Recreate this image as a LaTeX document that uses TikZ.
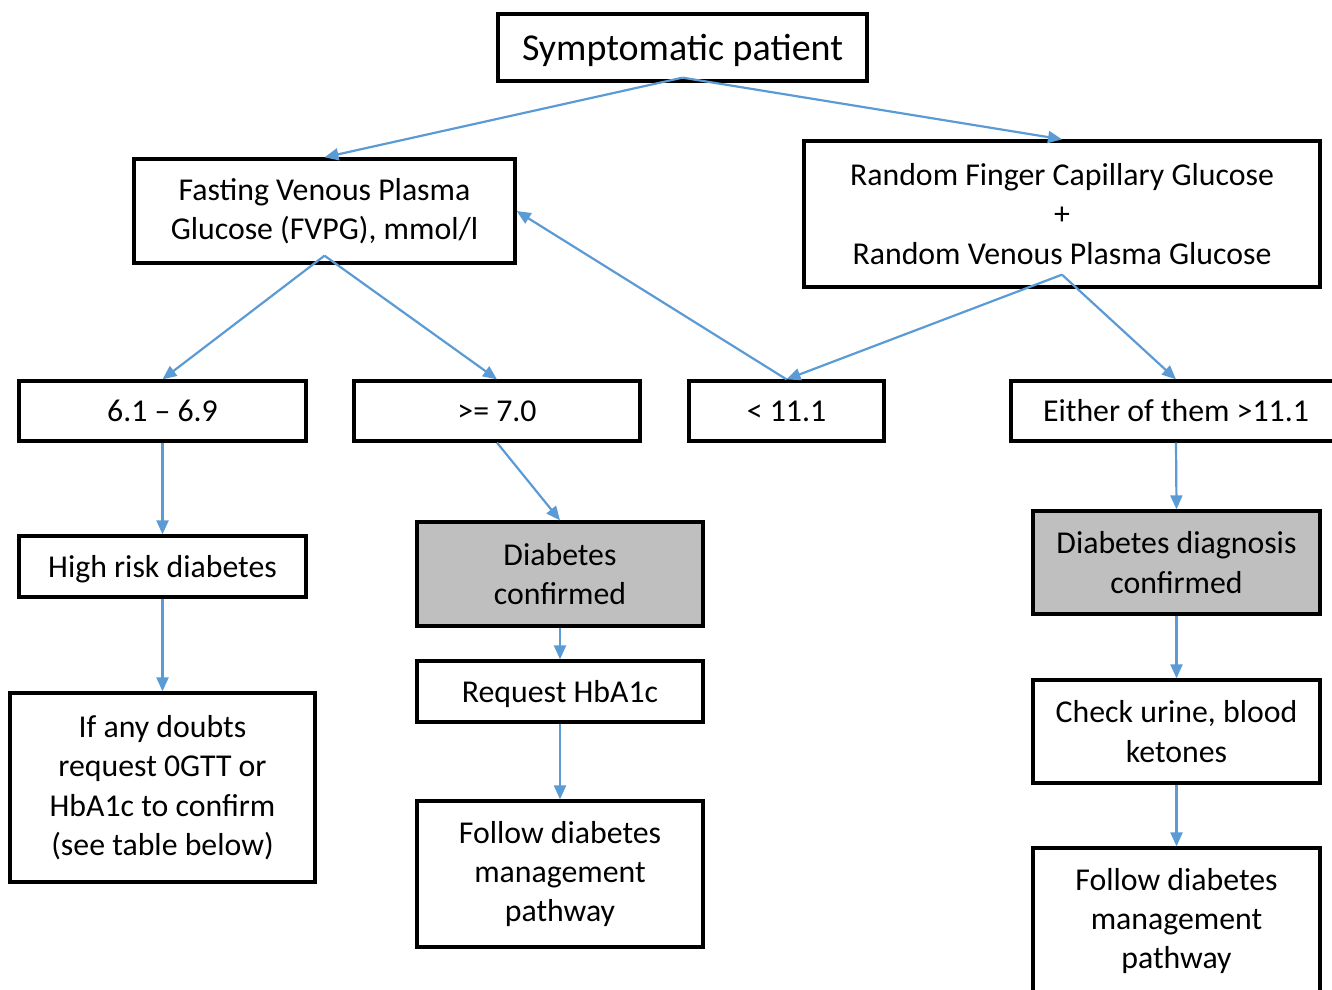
\documentclass[tikz,border=0pt]{standalone}
\usepackage{fontspec}
\setmainfont{Carlito}
\usepackage{xcolor}
\usetikzlibrary{arrows.meta}
\definecolor{flowblue}{HTML}{5B9BD5}
\definecolor{boxgrey}{HTML}{BFBFBF}
\tikzstyle{flowbox} = [rectangle, draw=black, line width=3.3pt, align=center, inner sep=0pt, font=\fontsize{31.8}{39.3}\selectfont]
\tikzstyle{arrow} = [-{Triangle[length=14pt,width=12pt]}, line width=2.2pt, draw=flowblue, fill=flowblue]

\begin{document}
\begin{tikzpicture}[x=1pt, y=-1pt,
    greybox/.style={flowbox, fill=boxgrey},
    titlebox/.style={flowbox, font=\fontsize{38}{46}\selectfont, text depth=0pt}
]
    \useasboundingbox (0,0) rectangle (1332,989);
    \clip (0,0) rectangle (1332,989);

    % Top
    \node[titlebox, minimum width=369pt, minimum height=67pt] (patient) at (682.5,47.5) {Symptomatic patient};

    % Second row
    \node[flowbox, minimum width=381pt, minimum height=104pt] (fvpg) at (324.5,211) {Fasting Venous Plasma\\Glucose (FVPG), mmol/l};
    \node[flowbox, minimum width=516pt, minimum height=146pt] (random) at (1062,214) {Random Finger Capillary Glucose\\+\\Random Venous Plasma Glucose};

    \draw[arrow] ([yshift=5pt]patient.south) -- (fvpg.north);
    \draw[arrow] ([yshift=5pt]patient.south) -- (random.north);

    % Third row - results
    \node[flowbox, minimum width=287pt, minimum height=60pt] (lowrange) at (162.5,411) {6.1 -- 6.9};
    \node[flowbox, minimum width=286pt, minimum height=60pt] (highfast) at (497,411) {>= 7.0};
    \node[flowbox, minimum width=195pt, minimum height=60pt] (lowrandom) at (786.5,411) {< 11.1};
    \node[flowbox, minimum width=330pt, minimum height=60pt] (highrandom) at (1176,411) {Either of them >11.1};

    \draw[arrow] ([yshift=9pt]fvpg.south) -- (lowrange.north);
    \draw[arrow] ([yshift=9pt]fvpg.south) -- (highfast.north);
    \draw[arrow] ([yshift=14pt]random.south) -- (lowrandom.north);
    \draw[arrow] ([yshift=14pt]random.south) -- (highrandom.north);
    \draw[arrow] (lowrandom.north) -- (fvpg.east);

    % Left column
    \node[flowbox, text depth=0pt, minimum width=287pt, minimum height=61pt] (highrisk) at (162.5,566.5) {High risk diabetes};
    \node[flowbox, minimum width=305pt, minimum height=189pt] (doubts) at (162.5,787.5) {If any doubts\\request 0GTT or\\HbA1c to confirm\\(see table below)};

    \draw[arrow] (lowrange.south) -- (highrisk.north);
    \draw[arrow] (highrisk.south) -- (doubts.north);

    % Middle column
    \node[greybox, minimum width=286pt, minimum height=104pt] (confirmed) at (560,574) {Diabetes\\confirmed};
    \node[flowbox, text depth=0pt, minimum width=286pt, minimum height=61pt] (hba) at (560,691.5) {Request HbA1c};
    \node[flowbox, minimum width=286pt, minimum height=146pt] (followmid) at (560,874) {Follow diabetes\\management\\pathway};

    \draw[arrow] (highfast.south) -- (confirmed.north);
    \draw[arrow] (confirmed.south) -- (hba.north);
    \draw[arrow] (hba.south) -- (followmid.north);

    % Right column
    \node[greybox, minimum width=287pt, minimum height=103pt] (diagnosis) at (1176.5,562.5) {Diabetes diagnosis\\confirmed};
    \node[flowbox, minimum width=287pt, minimum height=103pt] (ketones) at (1176.5,731.5) {Check urine, blood\\ketones};
    \node[flowbox, minimum width=287pt, minimum height=146pt] (followright) at (1176.5,921) {Follow diabetes\\management\\pathway};

    \draw[arrow] (highrandom.south) -- (diagnosis.north);
    \draw[arrow] (diagnosis.south) -- (ketones.north);
    \draw[arrow] (ketones.south) -- (followright.north);

\end{tikzpicture}
\end{document}
